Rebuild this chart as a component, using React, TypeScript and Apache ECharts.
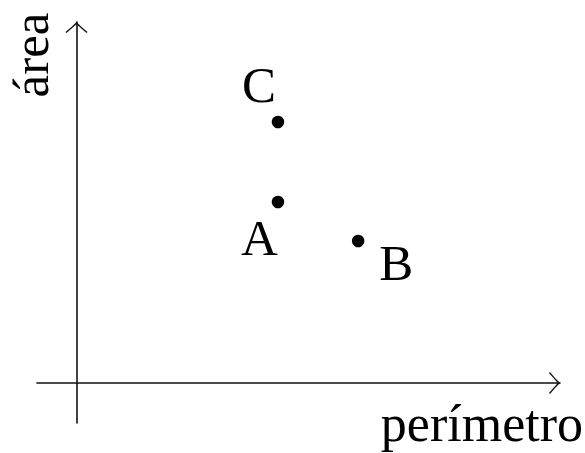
import React, { useEffect, useRef } from "react";
import * as echarts from "echarts";

const pointNames = ["A", "B", "C"];
const perimetro = [5.1, 7.13, 5.1];
const area = [4.525, 3.55, 6.525];
const labelOffsets: [number, number][] = [
  [-18.5, 35.8],
  [38, 21.8],
  [-19, -37.2],
];
const xAxisTitle = "perímetro";
const yAxisTitle = "área";

const FONT = "Liberation Serif";
const INK = "#000";
const ARROW =
  "path://M0 10 Q6 5.3 11 0 Q16 5.3 22 10 L21 11 Q16 6.6 11 2.2 Q6 6.6 1 11 Z";

export default function App() {
  const ref = useRef<HTMLDivElement>(null);
  useEffect(() => {
    if (!ref.current) return;
    const chart = echarts.init(ref.current, undefined, { renderer: "svg" });
    const axisCommon = {
      axisLine: {
        show: true,
        onZero: true,
        symbol: ["none", ARROW],
        symbolSize: [22, 11],
        symbolOffset: [0, -5.5],
        lineStyle: { color: "#111", width: 1.6 },
      },
      axisTick: { show: false },
      axisLabel: { show: false },
      splitLine: { show: false },
    };
    chart.setOption({
      animation: false,
      textStyle: { fontFamily: FONT },
      grid: { left: 37, right: 25, top: 22, bottom: 30, containLabel: false },
      xAxis: { type: "value", min: -1, max: 12.24, ...axisCommon },
      yAxis: { type: "value", min: -1, max: 9.025, ...axisCommon },
      series: [
        {
          type: "scatter",
          symbol: "circle",
          symbolSize: 12.5,
          itemStyle: { color: INK, opacity: 1 },
          data: pointNames.map((n, i) => ({
            name: n,
            value: [perimetro[i], area[i]],
            label: {
              show: true,
              position: "inside",
              formatter: n,
              offset: labelOffsets[i],
              align: "center",
              verticalAlign: "middle",
              color: INK,
              fontFamily: FONT,
              fontSize: 51,
            },
          })),
        },
      ],
      graphic: [
        {
          type: "text",
          x: 583,
          y: 423,
          style: {
            text: xAxisTitle,
            fill: INK,
            fontFamily: FONT,
            fontSize: 52,
            textAlign: "right",
            textVerticalAlign: "middle",
          },
        },
        {
          type: "text",
          x: 31,
          y: 55,
          rotation: Math.PI / 2,
          style: {
            text: yAxisTitle,
            fill: INK,
            fontFamily: FONT,
            fontSize: 51,
            textAlign: "center",
            textVerticalAlign: "middle",
          },
        },
      ],
    });
    return () => chart.dispose();
  }, []);
  return (
    <div
      ref={ref}
      style={{ position: "absolute", left: 0, top: 0, width: 585, height: 453 }}
    />
  );
}
